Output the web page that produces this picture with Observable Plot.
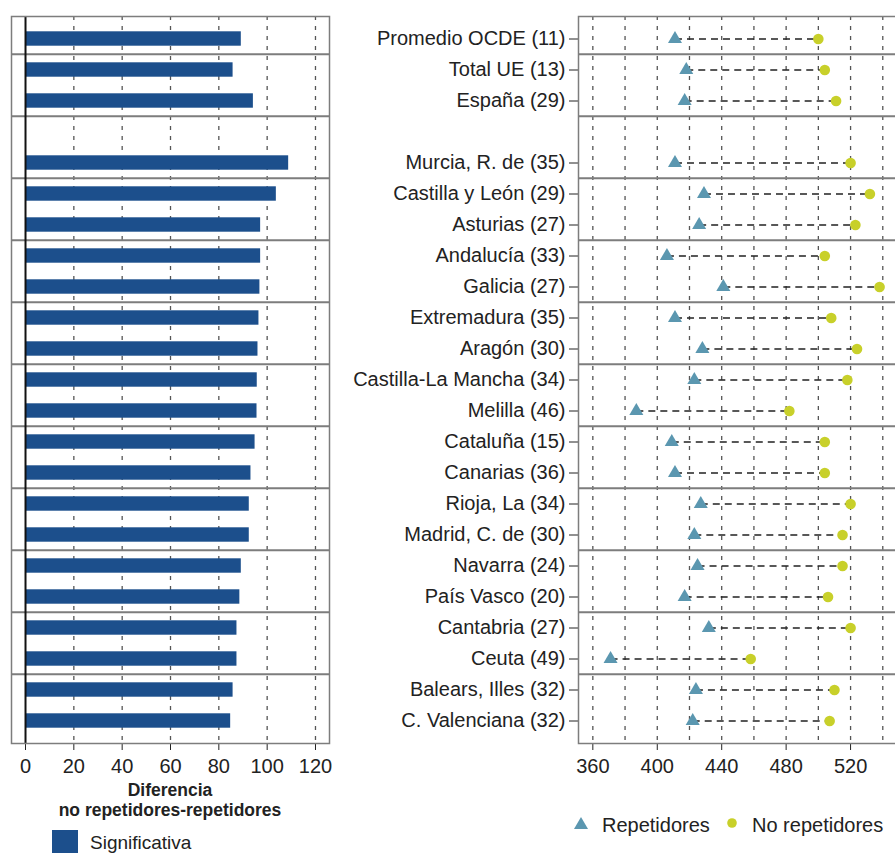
<!DOCTYPE html>
<html><head><meta charset="utf-8">
<script src="https://cdn.jsdelivr.net/npm/d3@7"></script>
<script src="https://cdn.jsdelivr.net/npm/@observablehq/plot@0.6"></script>
<style>
html,body{margin:0;padding:0;background:#fff;overflow:hidden;}
#wrap{position:relative;width:895px;height:853px;overflow:hidden;font-family:"Liberation Sans",Arial,sans-serif;color:#222;}
.abs{position:absolute;}
#left svg, #right svg{max-width:none !important;}
</style></head><body>
<div id="wrap">
  <div id="left" class="abs" style="left:0;top:0;width:340px"></div>
  <div id="right" class="abs" style="left:340px;top:0;width:575px"></div>
  <svg class="abs" style="left:0;top:0" width="895" height="853" font-family="Liberation Sans, Arial, sans-serif">
    <text x="170" y="796" text-anchor="middle" font-weight="bold" font-size="17.5" fill="#222">Diferencia</text>
    <text x="170" y="816" text-anchor="middle" font-weight="bold" font-size="17.5" fill="#222">no repetidores-repetidores</text>
    <rect x="52" y="830" width="26" height="30" fill="#1c4f8c"></rect>
    <text x="90" y="849" font-size="19" fill="#222">Significativa</text>
    <polygon points="574,829 588,829 581,817" fill="#5b97b0"></polygon>
    <text x="602" y="832" font-size="20" fill="#222">Repetidores</text>
    <circle cx="732" cy="823" r="4.8" fill="#c8d02a"></circle>
    <text x="752" y="832" font-size="20" fill="#222">No repetidores</text>
  </svg>
</div>
<script>
const regions = ["Promedio OCDE (11)", "Total UE (13)", "España (29)", " ", "Murcia, R. de (35)",
  "Castilla y León (29)", "Asturias (27)", "Andalucía (33)", "Galicia (27)", "Extremadura (35)",
  "Aragón (30)", "Castilla-La Mancha (34)", "Melilla (46)", "Cataluña (15)", "Canarias (36)",
  "Rioja, La (34)", "Madrid, C. de (30)", "Navarra (24)", "País Vasco (20)", "Cantabria (27)",
  "Ceuta (49)", "Balears, Illes (32)", "C. Valenciana (32)"];
const repetidores = [411, 418, 417, null, 411, 429, 426, 406, 441, 411, 428, 423, 387, 409, 411, 427, 423, 425, 417, 432, 371, 424, 422];
const noRepetidores = [500, 504, 511, null, 520, 532, 523, 504, 538, 508, 524, 518, 482, 504, 504, 520, 515, 515, 506, 520, 458, 510, 507];
const diferencia = [89.3, 85.9, 94.3, null, 108.9, 103.8, 97.3, 97.3, 97.0, 96.6, 96.2, 95.9, 95.8, 95.0, 93.3, 92.6, 92.6, 89.3, 88.7, 87.5, 87.5, 85.9, 84.9];
const groupStarts = ["Total UE (13)", " ", "Castilla y León (29)", "Andalucía (33)", "Extremadura (35)",
  "Castilla-La Mancha (34)", "Cataluña (15)", "Rioja, La (34)", "Navarra (24)", "Cantabria (27)", "Balears, Illes (32)"];
const leftTicks = [0, 20, 40, 60, 80, 100, 120];
const leftGrid = [20, 40, 60, 80, 100, 120];
const rightTicks = [360, 400, 440, 480, 520];
const rightGrid = [360, 380, 400, 420, 440, 460, 480, 500, 520, 540];

const rows = regions.map((r, i) => ({region: r, rep: repetidores[i], norep: noRepetidores[i], dif: diferencia[i]}));
const valid = rows.filter(d => d.rep != null);

const H = 785, MT = 16, MB = 42, PAD = 3.5;
const bw = (H - MT - MB - 2 * PAD) / regions.length;
const font = {fontFamily: "Liberation Sans, Arial, sans-serif", fontSize: "20px", color: "#222", background: "transparent", overflow: "visible", maxWidth: "none"};
const gridStyle = {stroke: "#555", strokeWidth: 1.3, strokeDasharray: "4,6", strokeOpacity: 1};
const sepStyle = {stroke: "#7d7d7d", strokeWidth: 2, dy: -bw / 2};
const yScale = {type: "band", domain: regions, padding: 0, insetTop: PAD, insetBottom: PAD};

const left = Plot.plot({
  width: 340, height: H, marginLeft: 11, marginRight: 11, marginTop: MT, marginBottom: MB,
  style: font,
  x: {domain: [-5.8, 125.8], ticks: leftTicks, tickSize: 7, tickPadding: 8, label: null},
  y: {...yScale, axis: null},
  marks: [
    Plot.ruleX(leftGrid, gridStyle),
    Plot.ruleY(groupStarts, sepStyle),
    Plot.barX(valid, {x: "dif", y: "region", fill: "#1c4f8c", insetTop: 8.3, insetBottom: 8.3}),
    Plot.ruleX([0], {stroke: "#111", strokeWidth: 2}),
    Plot.frame({stroke: "#7d7d7d", strokeWidth: 1.5})
  ]
});
document.getElementById("left").appendChild(left);

const right = Plot.plot({
  width: 575, height: H, marginLeft: 238, marginRight: 10, marginTop: MT, marginBottom: MB,
  style: font,
  x: {domain: [351.1, 554.1], ticks: rightTicks, tickSize: 7, tickPadding: 8, label: null},
  y: {...yScale, ticks: regions.filter(d => d.trim() !== ""), tickSize: 9, tickPadding: 4, label: null},
  marks: [
    Plot.ruleX(rightGrid, gridStyle),
    Plot.ruleY(groupStarts, sepStyle),
    Plot.link(valid, {x1: "rep", x2: "norep", y1: "region", y2: "region", stroke: "#222", strokeWidth: 1.5, strokeDasharray: "7,5"}),
    Plot.dot(valid, {x: "norep", y: "region", fill: "#c8d02a", r: 5.3, symbol: "circle"}),
    Plot.dot(valid, {x: "rep", y: "region", fill: "#5b97b0", r: 5.2, symbol: "triangle"}),
    Plot.frame({stroke: "#7d7d7d", strokeWidth: 1.5})
  ]
});
document.getElementById("right").appendChild(right);
</script>
</body></html>
